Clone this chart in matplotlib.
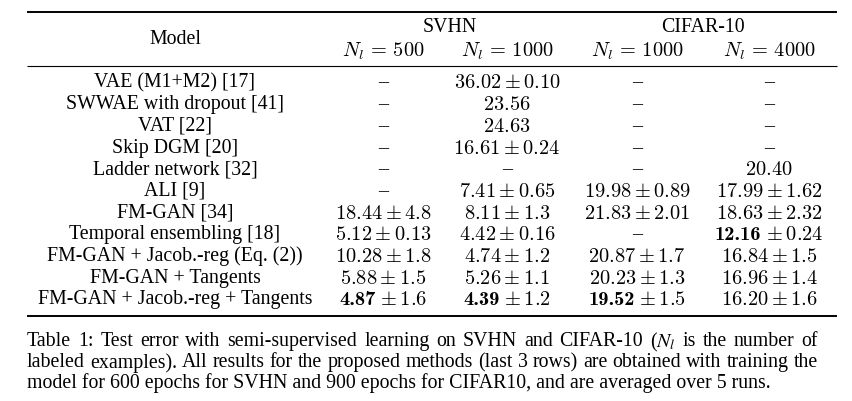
import matplotlib
matplotlib.use("Agg")
import matplotlib as mpl
import matplotlib.pyplot as plt
from matplotlib.font_manager import FontProperties

models = ["VAE (M1+M2) [17]", "SWWAE with dropout [41]", "VAT [22]", "Skip DGM [20]",
          "Ladder network [32]", "ALI [9]", "FM-GAN [34]", "Temporal ensembling [18]",
          "FM-GAN + Jacob.-reg (Eq. (2))", "FM-GAN + Tangents", "FM-GAN + Jacob.-reg + Tangents"]

svhn_500_mean = [None, None, None, None, None, None, "18.44", "5.12", "10.28", "5.88", "4.87"]
svhn_500_std = [None, None, None, None, None, None, "4.8", "0.13", "1.8", "1.5", "1.6"]
svhn_1000_mean = ["36.02", "23.56", "24.63", "16.61", None, "7.41", "8.11", "4.42", "4.74", "5.26", "4.39"]
svhn_1000_std = ["0.10", None, None, "0.24", None, "0.65", "1.3", "0.16", "1.2", "1.1", "1.2"]
cifar_1000_mean = [None, None, None, None, None, "19.98", "21.83", None, "20.87", "20.23", "19.52"]
cifar_1000_std = [None, None, None, None, None, "0.89", "2.01", None, "1.7", "1.3", "1.5"]
cifar_4000_mean = [None, None, None, None, "20.40", "17.99", "18.63", "12.16", "16.84", "16.96", "16.20"]
cifar_4000_std = [None, None, None, None, None, "1.62", "2.32", "0.24", "1.5", "1.4", "1.6"]

bold_svhn_500 = [10]
bold_svhn_1000 = [10]
bold_cifar_1000 = [10]
bold_cifar_4000 = [7]

group_labels = ["SVHN", "CIFAR-10"]
sub_labels = [r"$N_l\,=\,500$", r"$N_l\,=\,1000$", r"$N_l\,=\,1000$", r"$N_l\,=\,4000$"]

caption = [
    "Table 1: Test error with semi-supervised learning on SVHN and CIFAR-10 ($N_l$ is the number of",
    "labeled examples). All results for the proposed methods (last 3 rows) are obtained with training the",
    "model for 600 epochs for SVHN and 900 epochs for CIFAR10, and are averaged over 5 runs.",
]

W, H = 853, 402
fig = plt.figure(figsize=(W / 100, H / 100), dpi=100)
ax = fig.add_axes([0, 0, 1, 1])
ax.set_xlim(0, W)
ax.set_ylim(H, 0)
ax.axis("off")
renderer = fig.canvas.get_renderer()

serif = "Liberation Serif"
fs = 14.3
fs_math = 14.7
fs_cap = 14.3
col_x = [383, 507, 637, 769]
model_x = 175
row_y0, row_dy = 83, 21.7
bold_fp = FontProperties(fname=mpl.get_data_path() + "/fonts/ttf/cmb10.ttf", size=fs_math)

# rules
ax.plot([27, 837], [13, 13], color="black", lw=1.4, solid_capstyle="butt")
ax.plot([27, 837], [67, 67], color="black", lw=0.8, solid_capstyle="butt")
ax.plot([27, 837], [317, 317], color="black", lw=1.4, solid_capstyle="butt")

# headers
ax.text(model_x, 40, "Model", ha="center", va="center", fontsize=fs, family=serif)
ax.text(450, 28, group_labels[0], ha="center", va="center", fontsize=fs, family=serif)
ax.text(703, 28, group_labels[1], ha="center", va="center", fontsize=fs, family=serif)
for x, lab in zip(col_x, sub_labels):
    ax.text(x, 51, lab, ha="center", va="center", fontsize=fs_math, math_fontfamily="cm")

columns = [
    (svhn_500_mean, svhn_500_std, bold_svhn_500),
    (svhn_1000_mean, svhn_1000_std, bold_svhn_1000),
    (cifar_1000_mean, cifar_1000_std, bold_cifar_1000),
    (cifar_4000_mean, cifar_4000_std, bold_cifar_4000),
]

gap = fs_math * 100 / 72 * 0.2222

for i, name in enumerate(models):
    y = row_y0 + i * row_dy
    ax.text(model_x, y, name, ha="center", va="center", fontsize=fs, family=serif)
    for x, (means, stds, bolds) in zip(col_x, columns):
        m, s = means[i], stds[i]
        if m is None:
            ax.text(x, y, "\u2013", ha="center", va="center", fontsize=fs, family=serif)
            continue
        if i in bolds:
            t1 = ax.text(0, y, m, ha="left", va="baseline", fontproperties=bold_fp)
            t2 = ax.text(0, y, r"$\pm\:%s$" % s, ha="left", va="baseline",
                         fontsize=fs_math, math_fontfamily="cm")
            w1 = t1.get_window_extent(renderer).width
            w2 = t2.get_window_extent(renderer).width
            x0 = x - (w1 + gap + w2) / 2
            ref = ax.text(x, y, r"$%s\pm %s$" % (m, s), ha="center", va="center",
                          fontsize=fs_math, math_fontfamily="cm", alpha=0)
            bb = ref.get_window_extent(renderer)
            tb = ax.text(x, y, r"$%s\pm %s$" % (m, s), ha="left", va="baseline",
                         fontsize=fs_math, math_fontfamily="cm", alpha=0)
            bb2 = tb.get_window_extent(renderer)
            yb = y - ((bb.y0 + bb.y1) / 2 - (bb2.y0 + bb2.y1) / 2)
            ref.remove()
            tb.remove()
            t1.set_position((x0, yb))
            t2.set_position((x0 + w1 + gap, yb))
        else:
            s_txt = "$%s$" % m if s is None else r"$%s \pm %s$" % (m, s)
            ax.text(x, y, s_txt, ha="center", va="center", fontsize=fs_math, math_fontfamily="cm")

# caption (first two lines justified between left and right margins)
cap_left, cap_right = 27, 818
cap_y = [342, 363, 383]
for k, line in enumerate(caption):
    if k < 2:
        words = line.split(" ")
        ts = [ax.text(0, cap_y[k], w, ha="left", va="center", fontsize=fs_cap, family=serif,
                      math_fontfamily="stix") for w in words]
        widths = [t.get_window_extent(renderer).width for t in ts]
        space = (cap_right - cap_left - sum(widths)) / (len(words) - 1)
        xx = cap_left
        for t, w in zip(ts, widths):
            t.set_position((xx, cap_y[k]))
            xx += w + space
    else:
        ax.text(cap_left, cap_y[k], line, ha="left", va="center", fontsize=fs_cap, family=serif,
                math_fontfamily="stix")

fig.savefig("out.png", dpi=100, facecolor="white")
